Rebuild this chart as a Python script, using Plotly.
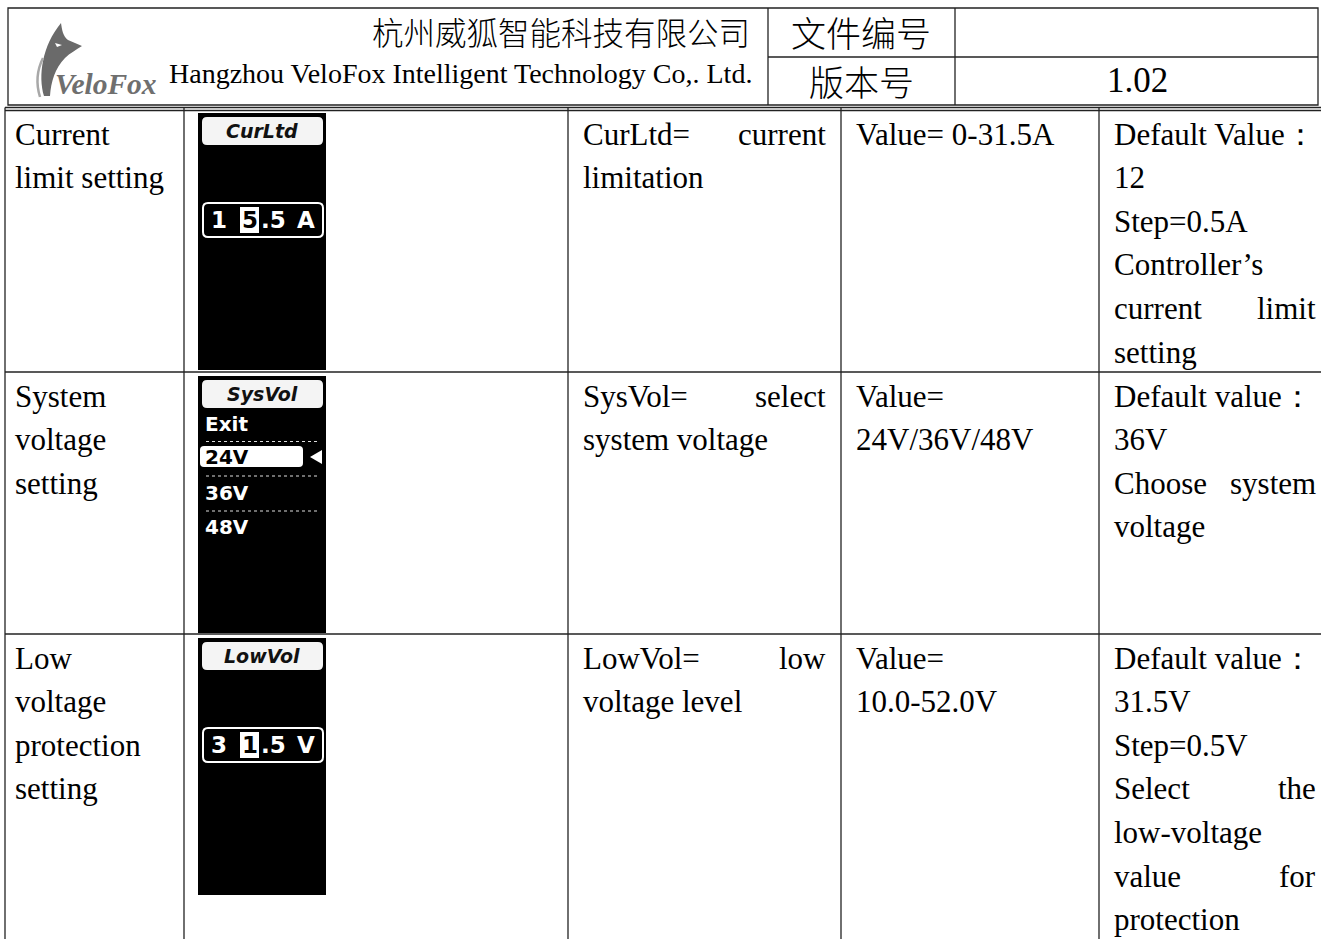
import plotly.graph_objects as go

# ---------------- data ----------------
company_cn = "杭州威狐智能科技有限公司"
company_en = "Hangzhou VeloFox Intelligent Technology Co,. Ltd."
doc_labels = ["文件编号", "版本号"]
doc_values = ["", "1.02"]
logo_text = "VeloFox"

# each line: (text, justified)
row_titles = [
    [("Current", False), ("limit setting", False)],
    [("System", False), ("voltage", False), ("setting", False)],
    [("Low", False), ("voltage", False), ("protection", False), ("setting", False)],
]
descriptions = [
    [("CurLtd= current", True), ("limitation", False)],
    [("SysVol= select", True), ("system voltage", False)],
    [("LowVol= low", True), ("voltage level", False)],
]
value_ranges = [
    [("Value= 0-31.5A", False)],
    [("Value=", False), ("24V/36V/48V", False)],
    [("Value=", False), ("10.0-52.0V", False)],
]
notes = [
    [("Default Value：", False), ("12", False), ("Step=0.5A", False),
     ("Controller’s", False), ("current limit", True), ("setting", False)],
    [("Default value：", False), ("36V", False), ("Choose system", True), ("voltage", False)],
    [("Default value：", False), ("31.5V", False), ("Step=0.5V", False),
     ("Select the", True), ("low-voltage", False), ("value for", True), ("protection", False)],
]
lcd_titles = ["CurLtd", "SysVol", "LowVol"]
lcd_values = [["1", "5", ".5", "A"], None, ["3", "1", ".5", "V"]]
lcd_menu = ["Exit", "24V", "36V", "48V"]
lcd_menu_selected = 1

# ---------------- layout constants ----------------
W, H = 1321, 939
row_tops = [110, 372, 634]
col_lines = [5, 184, 568, 841, 1099]
col_text_left = [13, None, 581, 854, 1112]
col_text_right = [170, None, 828, 1086, 1318]
LINE_H = 43.6
SERIF = "Liberation Serif, Times New Roman, serif"
CJK = "Noto Sans CJK SC"
FS = 31

shapes = []
annotations = []


def line(x0, y0, x1, y1, color="#222", width=1.3, dash=None):
    d = dict(type="line", x0=x0, y0=y0, x1=x1, y1=y1, xref="x", yref="y",
             line=dict(color=color, width=width))
    if dash:
        d["line"]["dash"] = dash
    shapes.append(d)


def rect(x0, y0, x1, y1, fill=None, color=None, width=0):
    shapes.append(dict(type="rect", x0=x0, y0=y0, x1=x1, y1=y1, xref="x", yref="y",
                       fillcolor=fill or "rgba(0,0,0,0)",
                       line=dict(color=color or "rgba(0,0,0,0)", width=width)))


def rrect(x0, y0, x1, y1, r, fill=None, color=None, width=0):
    p = (f"M {x0+r},{y0} L {x1-r},{y0} Q {x1},{y0} {x1},{y0+r} L {x1},{y1-r} "
         f"Q {x1},{y1} {x1-r},{y1} L {x0+r},{y1} Q {x0},{y1} {x0},{y1-r} "
         f"L {x0},{y0+r} Q {x0},{y0} {x0+r},{y0} Z")
    shapes.append(dict(type="path", path=p, xref="x", yref="y",
                       fillcolor=fill or "rgba(0,0,0,0)",
                       line=dict(color=color or "rgba(0,0,0,0)", width=width)))


def text(x, y, s, size=FS, family=SERIF, color="#000", anchor="left", weight=None):
    f = dict(size=size, family=family, color=color)
    if weight:
        f["weight"] = weight
    annotations.append(dict(x=x, y=y, xref="x", yref="y", text=s, showarrow=False,
                            xanchor=anchor, yanchor="middle", font=f))


def cell_lines(lines, x_left, x_right, y_first):
    for i, (s, just) in enumerate(lines):
        y = y_first + i * LINE_H
        words = s.split(" ")
        if just and len(words) > 1:
            text(x_left, y, words[0])
            text(x_right, y, words[-1], anchor="right")
        else:
            text(x_left, y, s)


# ---------------- header ----------------
rect(8, 8, 1318, 105, color="#222", width=1.3)
line(768, 8, 768, 105)
line(955, 8, 955, 105)
line(768, 57, 1318, 57)
text(752, 31, company_cn, size=31.5, family=CJK, anchor="right", weight=300)
text(754, 73, company_en, size=28, anchor="right")
text(861, 31, doc_labels[0], size=35, family=CJK, anchor="center", weight=300)
text(861, 80, doc_labels[1], size=35, family=CJK, anchor="center", weight=300)
text(1137, 33, doc_values[0], size=35, anchor="center")
text(1137, 80, doc_values[1], size=35, anchor="center")

# logo
shapes.append(dict(type="path", xref="x", yref="y",
                   path="M 44,96 C 38,76 42,46 61,23 C 62,30 63,36 68,40 L 82,46 "
                        "C 76,50 70,53 65,58 C 55,68 51,82 50,96 Z",
                   fillcolor="#6a6a6a", line=dict(width=0)))
shapes.append(dict(type="path", xref="x", yref="y",
                   path="M 40,97 C 36,84 37,70 43,58",
                   line=dict(color="#a8a8a8", width=2.5)))
shapes.append(dict(type="path", xref="x", yref="y",
                   path="M 55,43 L 62,45 L 57,47 Z",
                   fillcolor="#ffffff", line=dict(width=0)))
text(106, 84, "<b><i>" + logo_text + "</i></b>", size=29.5, color="#6f6f6f", anchor="center")

# ---------------- table grid ----------------
line(5, 107.5, W, 107.5, width=1.3)
line(5, 110.5, W, 110.5, width=1.3)
for y in row_tops[1:]:
    line(5, y, W, y, width=1.5)
for x in col_lines:
    line(x, 107.5, x, H, width=1.3)

# ---------------- text cells ----------------
for r in range(3):
    y0 = row_tops[r] + 24
    cell_lines(row_titles[r], col_text_left[0], col_text_right[0], y0)
    cell_lines(descriptions[r], col_text_left[2], col_text_right[2], y0)
    cell_lines(value_ranges[r], col_text_left[3], col_text_right[3], y0)
    cell_lines(notes[r], col_text_left[4], col_text_right[4], y0)

# ---------------- LCD screens ----------------
LCD = "DejaVu Sans, sans-serif"
lx0, lx1 = 198, 326
for r in range(3):
    top = row_tops[r] + 3 if r == 0 else row_tops[r] + 4
    rect(lx0, top, lx1, top + 257, fill="#000")
    rrect(202, top + 4, 323, top + 32, 5, fill="#f4f4f4")
    text(262, top + 18, "<b><i>" + lcd_titles[r] + "</i></b>", size=19, family=LCD,
         color="#111", anchor="center")
    vals = lcd_values[r]
    if vals is not None:
        vy0, vy1 = top + 90, top + 124
        rrect(203, vy0, 323, vy1, 5, color="#fff", width=2)
        cy = (vy0 + vy1) / 2
        text(219, cy, "<b>" + vals[0] + "</b>", size=23, family=LCD, color="#fff", anchor="center")
        rect(240, vy0 + 4, 259, vy1 - 4, fill="#fff")
        text(249.5, cy, "<b>" + vals[1] + "</b>", size=23, family=LCD, color="#000", anchor="center")
        text(259, cy, "<b>" + vals[2] + "</b>", size=23, family=LCD, color="#fff", anchor="left")
        text(306, cy, "<b>" + vals[3] + "</b>", size=23, family=LCD, color="#fff", anchor="center")
    else:
        ys = [top + 48, top + 81, top + 117, top + 151]
        for i, item in enumerate(lcd_menu):
            if i == lcd_menu_selected:
                rrect(200, ys[i] - 11, 303, ys[i] + 10, 4, fill="#fff")
                text(203, ys[i], "<b>" + item + "</b>", size=20, family=LCD, color="#000")
                shapes.append(dict(type="path", xref="x", yref="y",
                                   path=f"M 310,{ys[i]} L 322,{ys[i]-7} L 322,{ys[i]+7} Z",
                                   fillcolor="#fff", line=dict(width=0)))
            else:
                text(203, ys[i], "<b>" + item + "</b>", size=20, family=LCD, color="#fff")
            if i < len(lcd_menu) - 1:
                dy = (ys[i] + ys[i + 1]) / 2 + 1
                line(206, dy, 318, dy, color="#ddd", width=1.2, dash="dot")

fig = go.Figure()
fig.update_layout(
    width=W, height=H, autosize=False,
    margin=dict(l=0, r=0, t=0, b=0),
    paper_bgcolor="#fff", plot_bgcolor="#fff",
    xaxis=dict(range=[0, W], visible=False, fixedrange=True),
    yaxis=dict(range=[H, 0], visible=False, fixedrange=True),
    shapes=shapes, annotations=annotations, showlegend=False,
)
fig.write_html("out.html", config={"displayModeBar": False},
               post_script="document.body.style.margin='0';")
